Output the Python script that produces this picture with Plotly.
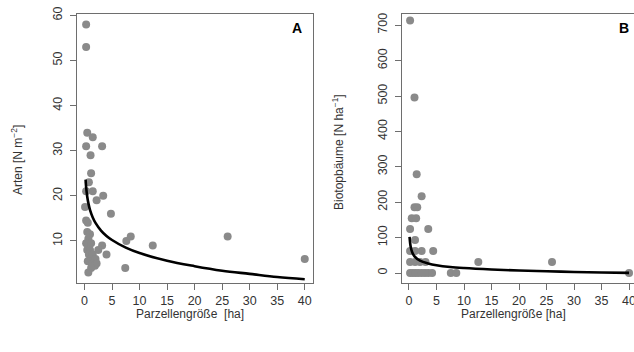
import plotly.graph_objects as go

# Panel A: Arten [N m^-2] vs Parzellengröße [ha]
a_x = [0.3, 0.3, 0.5, 1.5, 0.3, 3.2, 1.1, 1.2, 0.8, 0.3, 1.5, 3.4, 2.2, 0.1, 4.8,
       0.3, 0.6, 0.5, 1.0, 0.7, 0.3, 1.2, 0.5, 1.0, 3.2, 2.5, 0.8, 1.5, 4.0, 1.2,
       2.0, 0.6, 1.5, 2.2, 1.9, 1.2, 0.7, 7.4, 7.6, 8.4, 12.4, 26.0, 40.0]
a_y = [58, 53, 34, 33, 31, 31, 29, 25, 23, 21, 21, 20, 19, 17.5, 16,
       14.5, 14, 12, 11.5, 10.5, 9.5, 9.5, 8, 8, 9, 8, 7, 7, 7, 6,
       6, 5.5, 5, 5, 4.5, 4, 3, 4, 10, 11, 9, 11, 6]
# fitted curve A
a_fit_x = [0.2, 0.3, 0.5, 0.75, 1, 1.5, 2, 3, 4, 5, 7.5, 10, 15, 20, 25, 30, 35, 40]
a_fit_y = [23.6, 21.9, 19.8, 18.1, 16.9, 15.2, 14.0, 12.3, 11.1, 10.2, 8.5, 7.3, 5.6, 4.4, 3.4, 2.7, 2.0, 1.5]

# Panel B: Biotopbäume [N ha^-1] vs Parzellengröße [ha]
b_x = [0.2, 1.0, 1.4, 2.3, 1.0, 1.5, 0.5, 1.3, 0.2, 3.5, 1.1, 0.2, 1.1, 2.3, 4.4,
       0.2, 1.1, 2.0, 3.0, 12.6, 26.0, 0.2, 0.7, 1.2, 1.7, 2.3, 2.9, 3.5, 4.2,
       7.6, 8.6, 40.0]
b_y = [713, 496, 279, 217, 186, 186, 155, 155, 124, 124, 93, 62, 62, 62, 62,
       31, 31, 31, 31, 31, 31, 0, 0, 0, 0, 0, 0, 0, 0,
       0, 0, 0]
b_fit_x = [0.1, 0.3, 0.6, 1, 2, 3.5, 5, 7.5, 10, 15, 20, 25, 30, 35, 40]
b_fit_y = [102, 75, 58, 47, 35, 27, 22, 17, 14, 10, 7, 5, 3, 1.5, 0.5]

x_ticks = [0, 5, 10, 15, 20, 25, 30, 35, 40]
a_yticks = [10, 20, 30, 40, 50, 60]
b_yticks = [0, 100, 200, 300, 400, 500, 600, 700]

W, H = 634, 352
FONT = "Liberation Sans, Arial, sans-serif"
PT = "#8a8a8a"
AX = "#6e6e6e"
TXT = "#333333"

fig = go.Figure()
fig.add_trace(go.Scatter(x=a_x, y=a_y, mode="markers", xaxis="x", yaxis="y",
                         marker=dict(color=PT, size=8, line=dict(width=0)), showlegend=False))
fig.add_trace(go.Scatter(x=a_fit_x, y=a_fit_y, mode="lines", xaxis="x", yaxis="y",
                         line=dict(color="black", width=2.6, shape="spline"), showlegend=False))
fig.add_trace(go.Scatter(x=b_x, y=b_y, mode="markers", xaxis="x2", yaxis="y2",
                         marker=dict(color=PT, size=8, line=dict(width=0)), showlegend=False))
fig.add_trace(go.Scatter(x=b_fit_x, y=b_fit_y, mode="lines", xaxis="x2", yaxis="y2",
                         line=dict(color="black", width=2.6, shape="spline"), showlegend=False))

ydom = [1 - 283 / H, 1 - 14 / H]
common = dict(showgrid=False, zeroline=False, showline=True, linecolor=AX, linewidth=1.2,
              mirror=True, ticks="outside", ticklen=6, tickcolor=AX, tickwidth=1,
              automargin=False, ticklabeloverflow="allow",
              tickfont=dict(family=FONT, size=12.5, color=TXT))


def ann(text, x, y, size=12, color=TXT, angle=0):
    return dict(text=text, x=x / W, y=1 - y / H, xref="paper", yref="paper",
                xanchor="center", yanchor="middle", showarrow=False, textangle=angle,
                font=dict(family=FONT, size=size, color=color))


fig.update_layout(
    width=W, height=H, margin=dict(l=0, r=0, t=0, b=0, autoexpand=False),
    paper_bgcolor="white", plot_bgcolor="white",
    xaxis=dict(domain=[77 / W, 313 / W], range=[-1.36, 41.5], tickvals=x_ticks,
               anchor="y", ticklabelstandoff=0, **common),
    yaxis=dict(domain=ydom, range=[0.67, 60.3], tickvals=a_yticks, tickangle=-90,
               anchor="x", ticklabelstandoff=3, **common),
    xaxis2=dict(domain=[402 / W, 1.0], range=[-1.27, 40.9], tickvals=x_ticks,
                anchor="y2", ticklabelstandoff=0, **common),
    yaxis2=dict(domain=ydom, range=[-28.2, 731.6], tickvals=b_yticks, tickangle=-90,
                anchor="x2", ticklabelstandoff=3, **common),
    annotations=[
        ann("Parzellengröße  [ha]", 190, 314),
        ann("Parzellengröße [ha]", 513, 314),
        ann("Arten [N m<sup>−2</sup>]", 17, 160, angle=-90),
        ann("Biotopbäume [N ha<sup>−1</sup>]", 338, 152, angle=-90),
        ann("<b>A</b>", 297, 28, size=14, color="black"),
        ann("<b>B</b>", 624, 28, size=14, color="black"),
    ],
)

fig.write_html("out.html", config={"displayModeBar": False},
               post_script="document.body.style.margin='0';document.body.style.overflow='hidden';")
